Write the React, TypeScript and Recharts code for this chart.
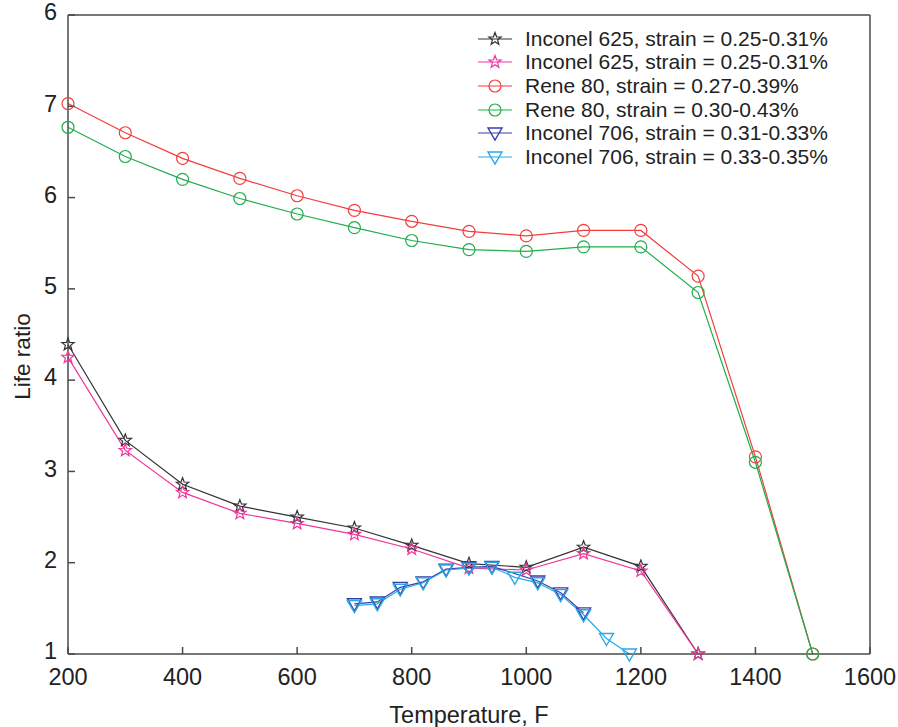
import React from 'react';
import { LineChart, Line, XAxis, YAxis, Legend } from 'recharts';

// temperatures (F)
const tempsInconel625 = [200, 300, 400, 500, 600, 700, 800, 900, 1000, 1100, 1200, 1300];
const tempsRene80 = [200, 300, 400, 500, 600, 700, 800, 900, 1000, 1100, 1200, 1300, 1400, 1500];
const tempsInconel706a = [700, 740, 780, 820, 860, 900, 940, 1020, 1060, 1100];
const tempsInconel706b = [700, 740, 780, 820, 860, 900, 940, 980, 1020, 1060, 1100, 1140, 1180];

// life ratios
const inconel625a = [4.39, 3.34, 2.86, 2.62, 2.5, 2.38, 2.19, 1.99, 1.95, 2.17, 1.96, 1.0];
const inconel625b = [4.25, 3.23, 2.77, 2.54, 2.43, 2.31, 2.15, 1.94, 1.92, 2.1, 1.91, 1.0];
const rene80a = [7.03, 6.71, 6.43, 6.21, 6.02, 5.86, 5.74, 5.63, 5.58, 5.64, 5.64, 5.14, 3.16, 1.0];
const rene80b = [6.77, 6.45, 6.2, 5.99, 5.82, 5.67, 5.53, 5.43, 5.41, 5.46, 5.46, 4.96, 3.1, 1.0];
const inconel706a = [1.55, 1.57, 1.73, 1.79, 1.93, 1.95, 1.96, 1.8, 1.67, 1.45];
const inconel706b = [1.53, 1.55, 1.71, 1.78, 1.92, 1.94, 1.95, 1.84, 1.78, 1.65, 1.43, 1.17, 1.0];

const xTicks = [200, 400, 600, 800, 1000, 1200, 1400, 1600];
const yTicks = [1, 2, 3, 4, 5, 6, 7, 8];
const yTickLabels = ['1', '2', '3', '4', '5', '6', '7', '6'];

const font = '"Liberation Sans", Arial, sans-serif';
const axisColor = '#4a4a4a';

type MarkerKind = 'star' | 'circle' | 'triangle';

const toPoints = (xs: number[], ys: number[]) => xs.map((t, i) => ({ t, v: ys[i] }));

const series = [
  { id: 'i625a', name: 'Inconel 625, strain = 0.25-0.31%', color: '#333333', marker: 'star' as MarkerKind, data: toPoints(tempsInconel625, inconel625a) },
  { id: 'i625b', name: 'Inconel 625, strain = 0.25-0.31%', color: '#f0359c', marker: 'star' as MarkerKind, data: toPoints(tempsInconel625, inconel625b) },
  { id: 'r80a', name: 'Rene 80, strain = 0.27-0.39%', color: '#f43d3d', marker: 'circle' as MarkerKind, data: toPoints(tempsRene80, rene80a) },
  { id: 'r80b', name: 'Rene 80, strain = 0.30-0.43%', color: '#1fae4a', marker: 'circle' as MarkerKind, data: toPoints(tempsRene80, rene80b) },
  { id: 'i706a', name: 'Inconel 706, strain = 0.31-0.33%', color: '#3a3fa6', marker: 'triangle' as MarkerKind, data: toPoints(tempsInconel706a, inconel706a) },
  { id: 'i706b', name: 'Inconel 706, strain = 0.33-0.35%', color: '#27a9e6', marker: 'triangle' as MarkerKind, data: toPoints(tempsInconel706b, inconel706b) },
];

function starPoints(cx: number, cy: number, R: number, r: number) {
  const pts: string[] = [];
  for (let i = 0; i < 10; i++) {
    const a = -Math.PI / 2 + (i * Math.PI) / 5;
    const rad = i % 2 === 0 ? R : r;
    pts.push(`${cx + rad * Math.cos(a)},${cy + rad * Math.sin(a)}`);
  }
  return pts.join(' ');
}

function Marker({ kind, cx, cy, color }: { kind: MarkerKind; cx: number; cy: number; color: string }) {
  if (kind === 'star') {
    return <polygon points={starPoints(cx, cy, 6.5, 2.7)} fill="none" stroke={color} strokeWidth={1.2} />;
  }
  if (kind === 'circle') {
    return <circle cx={cx} cy={cy} r={6} fill="none" stroke={color} strokeWidth={1.2} />;
  }
  return (
    <polygon
      points={`${cx - 7},${cy - 5} ${cx + 7},${cy - 5} ${cx},${cy + 7}`}
      fill="none"
      stroke={color}
      strokeWidth={1.4}
    />
  );
}

function LegendBox() {
  return (
    <div style={{ fontFamily: font, fontSize: 21, color: '#222' }}>
      {series.map((s) => (
        <div key={s.id} style={{ display: 'flex', alignItems: 'center', height: 23.6 }}>
          <svg width={47} height={24}>
            <line x1={0} y1={12} x2={34} y2={12} stroke={s.color} strokeWidth={1.2} />
            <Marker kind={s.marker} cx={17} cy={12} color={s.color} />
          </svg>
          <span style={{ whiteSpace: 'nowrap' }}>{s.name}</span>
        </div>
      ))}
    </div>
  );
}

export default function App() {
  const tickStyle = { fontFamily: font, fontSize: 23.5, fill: '#222' };
  return (
    <div style={{ position: 'absolute', left: 0, top: 0, background: '#fff' }}>
      <LineChart width={898} height={727} margin={{ top: 0, right: 0, bottom: 0, left: 0 }}>
        <XAxis
          dataKey="t"
          type="number"
          domain={[200, 1600]}
          ticks={xTicks}
          interval={0}
          height={73}
          tickSize={-7}
          tickMargin={21}
          tick={tickStyle}
          stroke={axisColor}
          strokeWidth={1.5}
          allowDuplicatedCategory={false}
          label={{ value: 'Temperature, F', position: 'insideBottom', offset: 4, style: { fontFamily: font, fontSize: 23.5, fill: '#222' } }}
        />
        <XAxis
          xAxisId="top"
          orientation="top"
          type="number"
          domain={[200, 1600]}
          ticks={xTicks}
          interval={0}
          height={15}
          tickSize={-7}
          tickFormatter={() => ''}
          stroke={axisColor}
          strokeWidth={1.5}
        />
        <YAxis
          type="number"
          domain={[1, 8]}
          ticks={yTicks}
          interval={0}
          width={68}
          tickSize={-7}
          tickMargin={18}
          tick={{ ...tickStyle, dy: -3 }}
          tickFormatter={(v: number) => yTickLabels[yTicks.indexOf(v)] ?? ''}
          stroke={axisColor}
          strokeWidth={1.5}
          label={{ value: 'Life ratio', angle: -90, position: 'center', dx: -12, dy: 22, style: { fontFamily: font, fontSize: 22.5, fill: '#222' } }}
        />
        <YAxis
          yAxisId="right"
          orientation="right"
          type="number"
          domain={[1, 8]}
          ticks={yTicks}
          interval={0}
          width={28}
          tickSize={-7}
          tickFormatter={() => ''}
          stroke={axisColor}
          strokeWidth={1.5}
        />
        <Legend
          layout="vertical"
          align="center"
          verticalAlign="middle"
          wrapperStyle={{ top: 27, left: 478, width: 400, height: 'auto' }}
          content={() => <LegendBox />}
        />
        {series.map((s) => (
          <Line
            key={s.id}
            data={s.data}
            dataKey="v"
            name={s.name}
            type="linear"
            stroke={s.color}
            strokeWidth={1.2}
            isAnimationActive={false}
            dot={(p: any) =>
              p.cx == null ? <g key={`${s.id}-${p.index}`} /> : (
                <Marker key={`${s.id}-${p.index}`} kind={s.marker} cx={p.cx} cy={p.cy} color={s.color} />
              )
            }
            activeDot={false}
          />
        ))}
      </LineChart>
    </div>
  );
}
